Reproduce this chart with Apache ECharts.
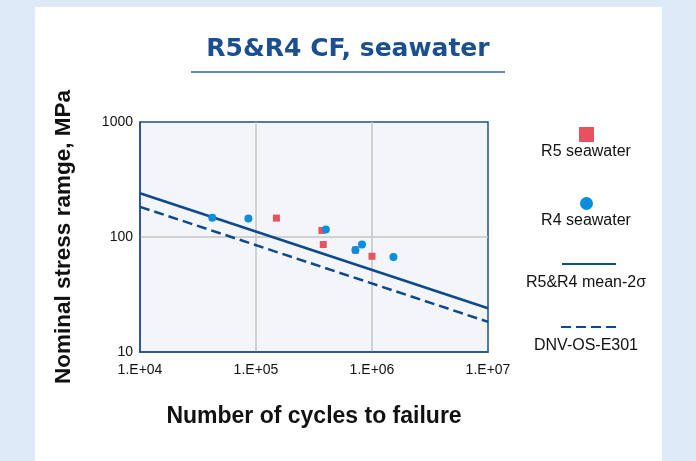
<!DOCTYPE html>
<html>
<head>
<meta charset="utf-8">
<script src="https://cdn.jsdelivr.net/npm/echarts@6/dist/echarts.min.js"></script>
<style>
  html, body { margin: 0; padding: 0; background: #dde9f6; }
  #chart { width: 696px; height: 461px; }
</style>
</head>
<body>
<div id="chart"></div>
<script>
// data
const r5Cycles = [1.5e5, 3.7e5, 3.8e5, 7.2e5, 1.0e6];
const r5Stress = [146, 114, 86, 77, 68];
const r4Cycles = [4.2e4, 8.6e4, 4.0e5, 7.2e5, 8.2e5, 1.53e6];
const r4Stress = [147, 145, 116, 77, 86, 67];
const curveCycles = [1e4, 1e7];
const meanStress = [240, 24];
const dnvStress = [183, 18.3];
const xTickLabels = ["1.E+04", "1.E+05", "1.E+06", "1.E+07"];
const yTickLabels = ["10", "100", "1000"];

const pairs = (xs, ys) => xs.map((x, i) => [x, ys[i]]);

const navy = "#0c4a8e";
const red = "#e8525c";
const cyan = "#0a8edb";
const font = "Liberation Sans";

const chart = echarts.init(document.getElementById("chart"));

const hiddenText = () => "";
const caption = (text, y) => ({
  type: "text",
  x: 586,
  y: y,
  style: { text: text, fontSize: 16, fontFamily: font, fill: "#111", align: "center", verticalAlign: "middle" },
});

const option = {
  animation: false,
  textStyle: { fontFamily: font },
  title: {
    text: "R5&R4 CF, seawater",
    left: "center",
    top: 37,
    padding: 0,
    textStyle: { fontSize: 25, fontWeight: "bold", color: "#1b4f8f", fontFamily: "DejaVu Sans" },
  },
  graphic: [
    {
      type: "rect",
      z: -10,
      shape: { x: 35, y: 7, width: 627, height: 460 },
      style: { fill: "#ffffff" },
    },
    {
      type: "line",
      shape: { x1: 191, y1: 72, x2: 505, y2: 72 },
      style: { stroke: "#2a66a6", lineWidth: 1.5 },
    },
    // legend captions sit under the icons
    caption("R5 seawater", 152),
    caption("R4 seawater", 221),
    caption("R5&R4 mean-2σ", 283),
    caption("DNV-OS-E301", 346),
  ],
  legend: [
    { data: ["R5 seawater"], left: 579, top: 127, padding: 0, itemWidth: 15, itemHeight: 15, formatter: hiddenText, selectedMode: false },
    { data: ["R4 seawater"], left: 580, top: 197, padding: 0, itemWidth: 13, itemHeight: 13, formatter: hiddenText, selectedMode: false },
    { data: ["R5&R4 mean-2σ"], left: 561, top: 257, padding: 0, itemWidth: 54, itemHeight: 14, formatter: hiddenText, selectedMode: false, itemStyle: { opacity: 0 } },
    { data: ["DNV-OS-E301"], left: 560, top: 320, padding: 0, itemWidth: 56, itemHeight: 14, formatter: hiddenText, selectedMode: false, itemStyle: { opacity: 0 } },
  ],
  grid: {
    left: 140,
    top: 122,
    width: 348,
    height: 230,
    show: true,
    backgroundColor: "#f3f5fb",
    borderColor: "#1f4e8c",
    borderWidth: 1.5,
  },
  xAxis: {
    type: "log",
    logBase: 10,
    min: 1e4,
    max: 1e7,
    name: "Number of cycles to failure",
    nameLocation: "middle",
    nameGap: 53,
    nameTextStyle: { fontSize: 23, fontWeight: "bold", color: "#111", fontFamily: font },
    axisLine: { show: true, lineStyle: { color: "#1f4e8c", width: 1.5 } },
    axisTick: { show: false },
    axisLabel: {
      margin: 11,
      fontSize: 14,
      color: "#111",
      formatter: (v) => xTickLabels[Math.round(Math.log10(v)) - 4],
    },
    splitLine: { show: true, showMinLine: false, showMaxLine: false, lineStyle: { color: "#c4c4c4", width: 1.5 } },
    minorSplitLine: { show: false },
  },
  yAxis: {
    type: "log",
    logBase: 10,
    min: 10,
    max: 1000,
    name: "Nominal stress ramge, MPa",
    nameLocation: "middle",
    nameGap: 65,
    nameTextStyle: { fontSize: 22.5, fontWeight: "bold", color: "#111", fontFamily: font },
    axisLine: { show: true, lineStyle: { color: "#1f4e8c", width: 1.5 } },
    axisTick: { show: false },
    axisLabel: {
      margin: 7,
      fontSize: 14,
      color: "#111",
      formatter: (v) => yTickLabels[Math.round(Math.log10(v)) - 1],
    },
    splitLine: { show: true, showMinLine: false, showMaxLine: false, lineStyle: { color: "#c4c4c4", width: 1.5 } },
  },
  series: [
    {
      name: "R5&R4 mean-2σ",
      type: "line",
      data: pairs(curveCycles, meanStress),
      symbol: "none",
      lineStyle: { color: navy, width: 2.5 },
      itemStyle: { color: navy },
      z: 2,
    },
    {
      name: "DNV-OS-E301",
      type: "line",
      data: pairs(curveCycles, dnvStress),
      symbol: "none",
      lineStyle: { color: navy, width: 2.5, type: [10, 5] },
      itemStyle: { color: navy },
      z: 2,
    },
    {
      name: "R5 seawater",
      type: "scatter",
      data: pairs(r5Cycles, r5Stress),
      symbol: "rect",
      symbolSize: 7,
      itemStyle: { color: red, opacity: 1 },
      z: 3,
    },
    {
      name: "R4 seawater",
      type: "scatter",
      data: pairs(r4Cycles, r4Stress),
      symbol: "circle",
      symbolSize: 8,
      itemStyle: { color: cyan, opacity: 1 },
      z: 4,
    },
  ],
};

chart.setOption(option);
window.addEventListener("resize", () => chart.resize());
</script>
</body>
</html>
